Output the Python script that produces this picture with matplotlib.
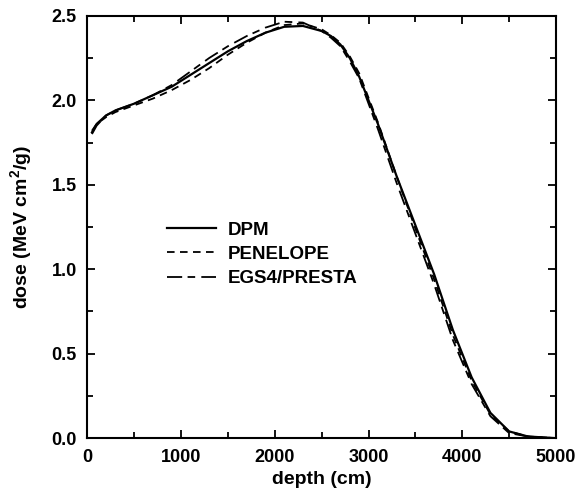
import numpy as np
import matplotlib
matplotlib.use("Agg")
import matplotlib.pyplot as plt
from matplotlib.ticker import MultipleLocator

plt.rcParams['font.family'] = ['Liberation Sans', 'DejaVu Sans']
plt.rcParams['font.weight'] = 'bold'
plt.rcParams['mathtext.fontset'] = 'custom'
plt.rcParams['mathtext.bf'] = 'Liberation Sans:bold'
plt.rcParams['mathtext.rm'] = 'Liberation Sans:bold'

depth = [50, 100, 200, 300, 400, 500, 700, 900, 1100, 1300, 1500, 1700, 1900,
         2100, 2300, 2500, 2600, 2700, 2800, 2900, 3100, 3300, 3500, 3700,
         3900, 4100, 4300, 4500, 4700, 5000]

dpm = [1.81, 1.86, 1.91, 1.94, 1.96, 1.98, 2.03, 2.08, 2.15, 2.22, 2.29, 2.35,
       2.40, 2.435, 2.44, 2.41, 2.38, 2.33, 2.25, 2.14, 1.86, 1.55, 1.26, 0.97,
       0.64, 0.36, 0.15, 0.04, 0.01, 0.0]

penelope = [1.82, 1.86, 1.90, 1.93, 1.95, 1.97, 2.01, 2.06, 2.12, 2.19, 2.27,
            2.34, 2.40, 2.445, 2.455, 2.42, 2.385, 2.34, 2.26, 2.16, 1.87,
            1.55, 1.24, 0.94, 0.61, 0.34, 0.14, 0.04, 0.01, 0.0]

egs4 = [1.80, 1.85, 1.91, 1.94, 1.96, 1.98, 2.03, 2.09, 2.17, 2.25, 2.32, 2.38,
        2.43, 2.465, 2.46, 2.41, 2.37, 2.32, 2.23, 2.13, 1.83, 1.51, 1.21,
        0.91, 0.58, 0.32, 0.13, 0.03, 0.01, 0.0]

fig = plt.figure(figsize=(5.78, 4.94), dpi=100)
ax = fig.add_axes([0.151, 0.113, 0.811, 0.855])

ax.plot(depth, dpm, color='black', lw=1.6, ls='-', label='DPM')
ax.plot(depth, penelope, color='black', lw=1.3, ls=(0, (4.2, 3)), label='PENELOPE')
ax.plot(depth, egs4, color='black', lw=1.3, ls=(0, (8.4, 3, 4.2, 3.4)), label='EGS4/PRESTA')

ax.set_xlim(0, 5000)
ax.set_ylim(0, 2.5)
ax.xaxis.set_major_locator(MultipleLocator(1000))
ax.xaxis.set_minor_locator(MultipleLocator(500))
ax.yaxis.set_major_locator(MultipleLocator(0.5))
ax.yaxis.set_minor_locator(MultipleLocator(0.25))
ax.yaxis.set_major_formatter(matplotlib.ticker.FormatStrFormatter('%.1f'))
ax.tick_params(which='both', direction='in', top=True, right=True, width=1.3,
               labelsize=13)
ax.tick_params(which='major', length=6, pad=7.5)
ax.tick_params(which='minor', length=4)
for s in ax.spines.values():
    s.set_linewidth(1.5)

ax.set_xlabel('depth (cm)', fontsize=14, fontweight='bold', labelpad=4)
ax.set_ylabel(r'dose (MeV cm$^\mathbf{2}$/g)', fontsize=14, fontweight='bold', labelpad=12)

ax.legend(loc='upper left', bbox_to_anchor=(0.15, 0.535), frameon=False,
          fontsize=13.5, handlelength=2.6, handletextpad=0.65, labelspacing=0.38,
          borderpad=0)

plt.savefig('out.png', dpi=100)
